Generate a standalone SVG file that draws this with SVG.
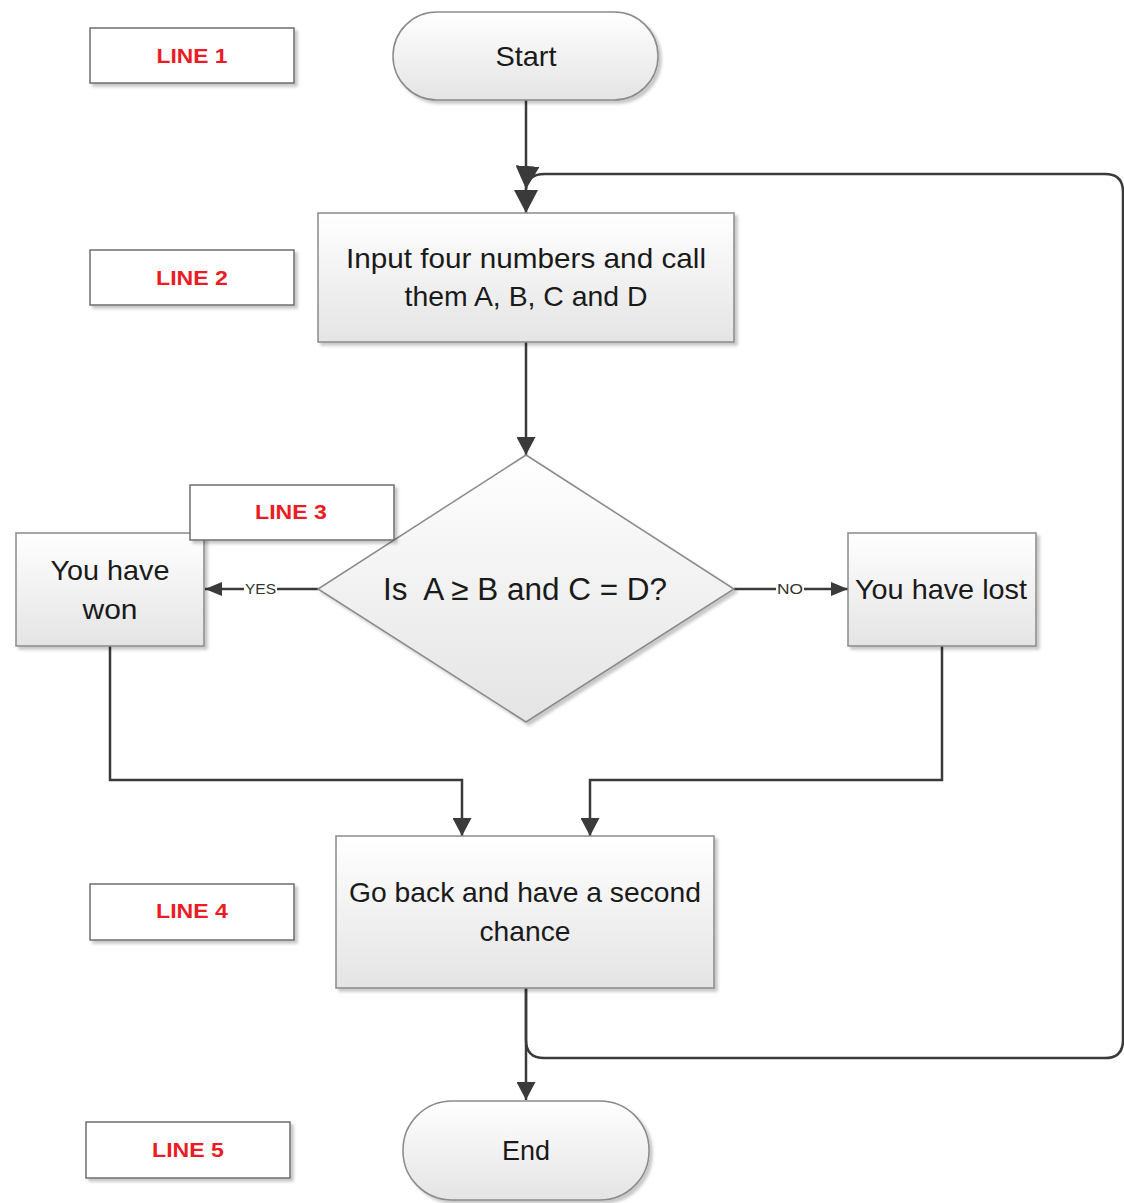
<svg xmlns="http://www.w3.org/2000/svg" width="1124" height="1203" viewBox="0 0 1124 1203">
<defs>
<linearGradient id="g" x1="0" y1="0" x2="0" y2="1">
<stop offset="0" stop-color="#ffffff"/>
<stop offset="1" stop-color="#e4e4e4"/>
</linearGradient>
<filter id="sh" x="-10%" y="-10%" width="125%" height="130%">
<feDropShadow dx="3" dy="3" stdDeviation="1.5" flood-color="#000" flood-opacity="0.22"/>
</filter>
<marker id="aBig" markerUnits="userSpaceOnUse" markerWidth="24" markerHeight="24" viewBox="0 0 24 24" refX="23" refY="12" orient="auto">
<path d="M0,0 L23,12 L0,24 z" fill="#3a3a3a"/>
</marker>
<marker id="aMid" markerUnits="userSpaceOnUse" markerWidth="19" markerHeight="19" viewBox="0 0 19 19" refX="18" refY="9.5" orient="auto">
<path d="M0,0 L18,9.5 L0,19 z" fill="#3a3a3a"/>
</marker>
<marker id="aSm" markerUnits="userSpaceOnUse" markerWidth="18" markerHeight="14" viewBox="0 0 18 14" refX="17" refY="7" orient="auto">
<path d="M0,0 L17,7 L0,14 z" fill="#3a3a3a"/>
</marker>
</defs>
<style>
.shape{fill:url(#g);stroke:#8a8a8a;stroke-width:1.5;filter:url(#sh)}
.lbl{fill:#ffffff;stroke:#6e6e6e;stroke-width:1.5;filter:url(#sh)}
.t{font-family:"Liberation Sans",Arial,sans-serif;font-size:28px;fill:#1a1a1a;text-anchor:middle}
.big{font-size:31px;white-space:pre}
.red{font-family:"Liberation Sans",Arial,sans-serif;font-size:21px;font-weight:bold;fill:#ec1c24;text-anchor:middle}
.c{fill:none;stroke:#3a3a3a;stroke-width:2.5}
.cl{font-family:"Liberation Sans",Arial,sans-serif;font-size:14px;fill:#333;text-anchor:middle}
</style>
<rect width="1124" height="1203" fill="#ffffff"/>

<g id="connectors">
<path class="c" d="M526,100 V213" marker-end="url(#aBig)"/>
<path class="c" d="M526,988 V1040 Q526,1058 544,1058 H1105 Q1123,1058 1123,1040 V192 Q1123,174 1105,174 H545 Q527,174 526,189" marker-end="url(#aBig)"/>
<path class="c" d="M526,342 V455" marker-end="url(#aMid)"/>
<path class="c" d="M318,589 H205" marker-end="url(#aSm)"/>
<path class="c" d="M734,589 H848" marker-end="url(#aSm)"/>
<path class="c" d="M110,646 V780 H462 V836" marker-end="url(#aMid)"/>
<path class="c" d="M942,646 V780 H590 V836" marker-end="url(#aMid)"/>
<path class="c" d="M526,988 V1100" marker-end="url(#aMid)"/>
<rect x="244" y="580" width="33" height="18" fill="#ffffff"/>
<text class="cl" x="260.5" y="594" textLength="31" lengthAdjust="spacingAndGlyphs">YES</text>
<rect x="776" y="580" width="28" height="18" fill="#ffffff"/>
<text class="cl" x="790" y="594" textLength="26" lengthAdjust="spacingAndGlyphs">NO</text>
</g>

<g id="start">
<rect class="shape" x="393" y="12" width="265" height="88" rx="44" ry="44"/>
<text class="t" x="526" y="66" textLength="61" lengthAdjust="spacingAndGlyphs">Start</text>
</g>

<g id="input">
<rect class="shape" x="318" y="213" width="416" height="129"/>
<text class="t" x="526" y="268" textLength="360" lengthAdjust="spacingAndGlyphs">Input four numbers and call</text>
<text class="t" x="526" y="306" textLength="243" lengthAdjust="spacingAndGlyphs">them A, B, C and D</text>
</g>

<g id="decision">
<polygon class="shape" points="526,455 734,589 526,722 318,589"/>
<text class="t big" x="525" y="600" textLength="284" lengthAdjust="spacingAndGlyphs">Is  A ≥ B and C = D?</text>
</g>

<g id="won">
<rect class="shape" x="16" y="533" width="188" height="113"/>
<text class="t" x="110" y="580" textLength="119" lengthAdjust="spacingAndGlyphs">You have</text>
<text class="t" x="110" y="619" textLength="55" lengthAdjust="spacingAndGlyphs">won</text>
</g>

<g id="lost">
<rect class="shape" x="848" y="533" width="188" height="113"/>
<text class="t" x="941" y="599" textLength="172" lengthAdjust="spacingAndGlyphs">You have lost</text>
</g>

<g id="goback">
<rect class="shape" x="336" y="836" width="378" height="152"/>
<text class="t" x="525" y="902" textLength="352" lengthAdjust="spacingAndGlyphs">Go back and have a second</text>
<text class="t" x="525" y="941" textLength="91" lengthAdjust="spacingAndGlyphs">chance</text>
</g>

<g id="end">
<rect class="shape" x="403" y="1101" width="246" height="99" rx="49" ry="49"/>
<text class="t" x="526" y="1160" textLength="48" lengthAdjust="spacingAndGlyphs">End</text>
</g>

<g id="line1">
<rect class="lbl" x="90" y="28" width="204" height="55"/>
<text class="red" x="192" y="63" textLength="71" lengthAdjust="spacingAndGlyphs">LINE 1</text>
</g>
<g id="line2">
<rect class="lbl" x="90" y="250" width="204" height="55"/>
<text class="red" x="192" y="285" textLength="72" lengthAdjust="spacingAndGlyphs">LINE 2</text>
</g>
<g id="line3">
<rect class="lbl" x="190" y="485" width="204" height="55"/>
<text class="red" x="291" y="519" textLength="72" lengthAdjust="spacingAndGlyphs">LINE 3</text>
</g>
<g id="line4">
<rect class="lbl" x="90" y="884" width="204" height="56"/>
<text class="red" x="192" y="918" textLength="72" lengthAdjust="spacingAndGlyphs">LINE 4</text>
</g>
<g id="line5">
<rect class="lbl" x="86" y="1122" width="204" height="56"/>
<text class="red" x="188" y="1157" textLength="72" lengthAdjust="spacingAndGlyphs">LINE 5</text>
</g>
</svg>
